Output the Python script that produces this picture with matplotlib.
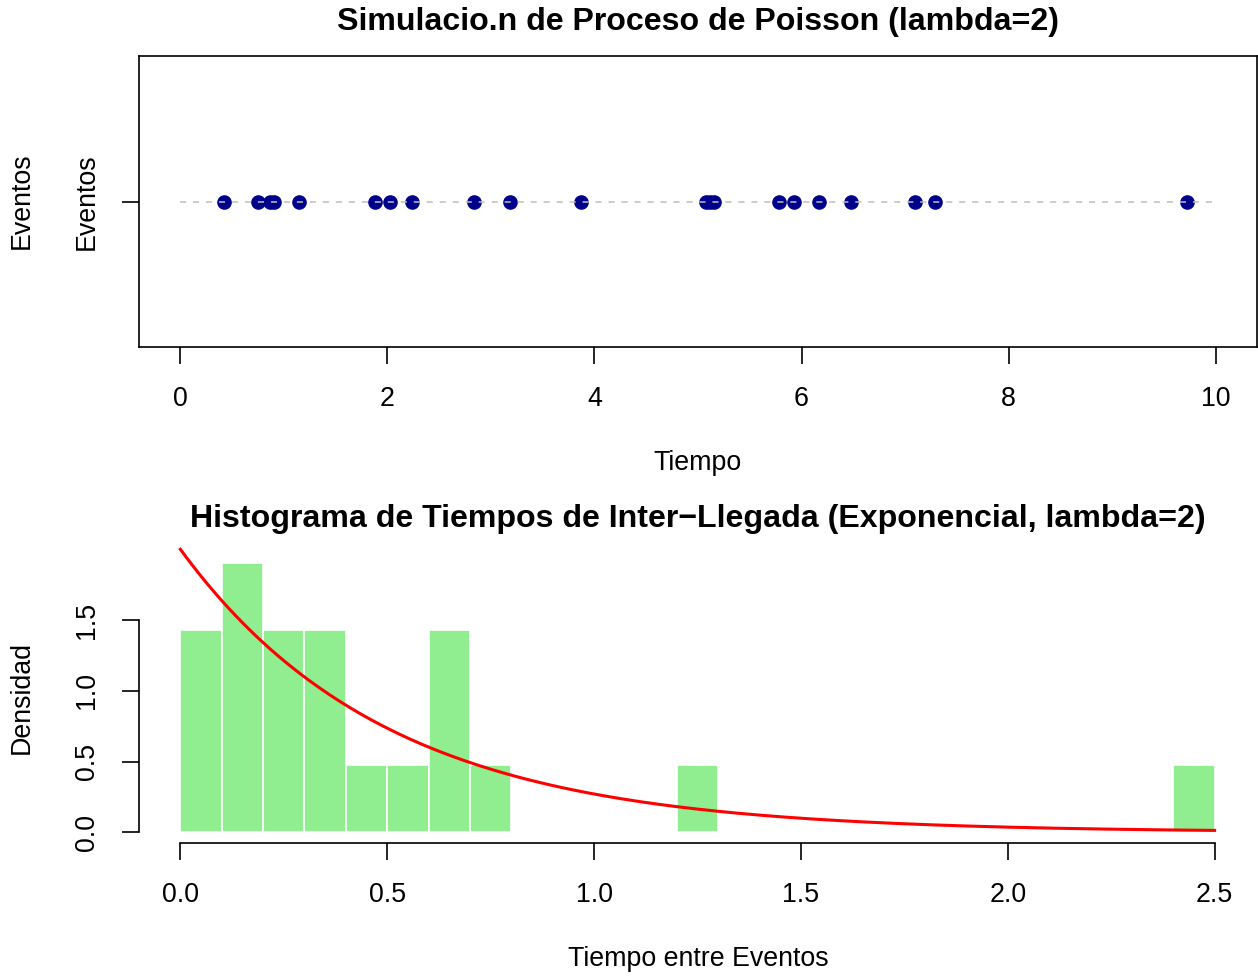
import numpy as np
import matplotlib
matplotlib.use("Agg")
import matplotlib.pyplot as plt

plt.rcParams['font.family'] = ['Liberation Sans', 'DejaVu Sans']

# Tiempos de llegada simulados (proceso de Poisson, lambda = 2, horizonte 10)
LAMBDA = 2
T_MAX = 10
eventos = [0.418, 0.747, 0.870, 0.908, 1.143, 1.877, 2.029, 2.239, 2.834,
           3.188, 3.865, 5.077, 5.120, 5.150, 5.783, 5.932, 6.169, 6.478,
           7.101, 7.290, 9.720]
ticks_tiempo = [0, 2, 4, 6, 8, 10]
ticks_inter = [0.0, 0.5, 1.0, 1.5, 2.0, 2.5]
ticks_dens = [0.0, 0.5, 1.0, 1.5]
ancho_bin = 0.1
max_bin = 2.5

W, H = 1258, 976
fig = plt.figure(figsize=(W / 100, H / 100), dpi=100)


def fx(px):
    return px / W


def fy(py):
    return 1 - py / H


FS = 19.3
tick_len = 12.2

# ---- Panel superior: eventos en el tiempo ----
ax1 = fig.add_axes([fx(139), fy(347), fx(1257) - fx(139), fy(56) - fy(347)])
y1 = np.ones(len(eventos))
ax1.plot(eventos, y1, 'o', color='#00008b', ms=9.5, zorder=2)
ax1.plot([0, T_MAX], [1, 1], color='#bebebe', lw=1.1, dashes=(4, 4.5), zorder=3)
ax1.set_xlim(-0.04 * T_MAX, 1.04 * T_MAX)
ax1.set_ylim(0.568, 1.432)
ax1.set_xticks(ticks_tiempo)
ax1.set_xticklabels([str(t) for t in ticks_tiempo])
ax1.set_yticks([1])
ax1.set_yticklabels(['Eventos'], rotation=90, va='center')
for s in ax1.spines.values():
    s.set_linewidth(1.2)
ax1.tick_params(length=tick_len, width=1.2, labelsize=FS, pad=16)

fig.text(0.5 * (fx(139) + fx(1257)), fy(22), 'Simulacio.n de Proceso de Poisson (lambda=2)',
         ha='center', va='center', fontsize=FS * 1.2, fontweight='bold')
fig.text(fx(698), fy(463), 'Tiempo', ha='center', va='center', fontsize=FS)
fig.text(fx(22), fy(201), 'Eventos', ha='center', va='center', fontsize=FS, rotation=90)

# ---- Panel inferior: histograma de tiempos entre llegadas ----
inter = np.diff(np.concatenate([[0], eventos]))
bins = np.arange(0, max_bin + ancho_bin / 2, ancho_bin)

ax2 = fig.add_axes([fx(139), fy(843.1), fx(1256) - fx(139), fy(552) - fy(843.1)])
ax2.hist(inter, bins=bins, density=True, color='#90ee90', edgecolor='white', linewidth=1.2)
xs = np.linspace(0, max_bin, 300)
ax2.plot(xs, LAMBDA * np.exp(-LAMBDA * xs), color='red', lw=2.2, clip_on=False)
ax2.set_xlim(-0.04 * max_bin, 1.04 * max_bin)
dmax = 4 / (len(inter) * ancho_bin)
ax2.set_ylim(-0.04 * dmax, 1.04 * dmax)
ax2.set_xticks(ticks_inter)
ax2.set_xticklabels([f'{t:.1f}' for t in ticks_inter])
ax2.set_yticks(ticks_dens)
ax2.set_yticklabels([f'{t:.1f}' for t in ticks_dens], rotation=90, va='center')
ax2.spines['top'].set_visible(False)
ax2.spines['right'].set_visible(False)
ax2.spines['left'].set_bounds(0, 1.5)
ax2.spines['bottom'].set_bounds(0, max_bin)
for s in ax2.spines.values():
    s.set_linewidth(1.2)
ax2.tick_params(length=tick_len, width=1.2, labelsize=FS, pad=16)

fig.text(0.5 * (fx(139) + fx(1256)), fy(519),
         'Histograma de Tiempos de Inter\u2212Llegada (Exponencial, lambda=2)',
         ha='center', va='center', fontsize=FS * 1.2, fontweight='bold')
fig.text(fx(698), fy(959), 'Tiempo entre Eventos', ha='center', va='center', fontsize=FS)
fig.text(fx(22), fy(697), 'Densidad', ha='center', va='center', fontsize=FS, rotation=90)

fig.savefig('out.png', dpi=100)
